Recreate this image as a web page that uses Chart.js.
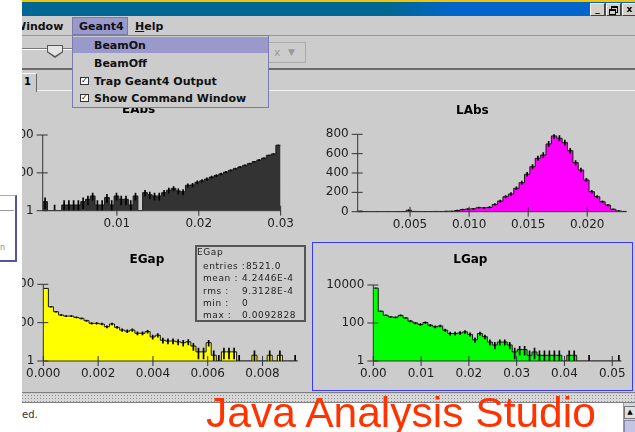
<!DOCTYPE html>
<html>
<head>
<meta charset="utf-8">
<script src="https://cdn.jsdelivr.net/npm/chart.js@4.4.1/dist/chart.umd.min.js"></script>
<style>
  body { margin:0; width:635px; height:432px; overflow:hidden; position:relative; background:#cccccc; font-family:"DejaVu Sans", sans-serif; }
  .abs { position:absolute; }
  canvas { position:absolute; z-index:1; }
  .menu { position:absolute; font-weight:bold; font-size:11px; color:#111; line-height:13px; }
  .wbtn { position:absolute; top:3px; width:13px; height:11px; background:#d4d0c8; border:1px solid; border-color:#fff #404040 #404040 #fff; font:bold 9px "DejaVu Sans"; line-height:11px; text-align:center; color:#000; }
  .stat { position:absolute; font-size:9px; line-height:10px; letter-spacing:0.6px; color:#222; white-space:nowrap; }
</style>
</head>
<body>

<!-- window chrome -->
<div class="abs" style="left:0;top:0;width:635px;height:16px;background:linear-gradient(to right,#006795 0,#006795 390px,#0066cc 455px,#0066cc 635px);"></div>
<div class="abs" style="left:0;top:0;width:635px;height:2px;background:#f5c400;"></div>
<div class="wbtn" style="left:590px;">_</div>
<div class="wbtn" style="left:606px;"><div class="abs" style="left:4px;top:2px;width:5px;height:4px;border:1px solid #000;border-top-width:2px;"></div><div class="abs" style="left:2px;top:5px;width:5px;height:3px;border:1px solid #000;border-top-width:2px;background:#d4d0c8;"></div></div>
<div class="wbtn" style="left:622px;">x</div>

<!-- menu bar -->
<div class="abs" style="left:0;top:16px;width:635px;height:19px;border-bottom:1px solid #9a9a9a;"></div>
<div class="menu" style="left:14px;top:20px;">Window</div>
<div class="abs" style="left:72px;top:17px;width:54px;height:16px;background:#9999cc;border:1px solid #7a7aa8;"></div>
<div class="menu" style="left:79px;top:20px;">Geant4</div>
<div class="menu" style="left:135px;top:20px;"><u>H</u>elp</div>

<!-- toolbar: slider and combo -->
<div class="abs" style="left:0;top:48px;width:72px;height:1px;background:#777;border-bottom:1px solid #fff;"></div>
<div class="abs" style="left:47px;top:45px;width:16px;height:13px;background:#555;clip-path:polygon(0 0,100% 0,100% 55%,50% 100%,0 55%);"></div>
<div class="abs" style="left:48px;top:46px;width:14px;height:10px;background:#e4e4e4;clip-path:polygon(0 0,100% 0,100% 55%,50% 100%,0 55%);"></div>
<div class="abs" style="left:262px;top:42px;width:42px;height:19px;border:1px solid #aaa;color:#999;font-size:11px;line-height:19px;"><span style="position:absolute;left:11px;">x</span><span style="position:absolute;left:25px;font-size:9px;">&#9660;</span></div>
<div class="abs" style="left:0;top:68px;width:635px;height:2px;background:#6a6a6a;"></div>

<!-- tab strip -->
<div class="abs" style="left:37px;top:90px;width:598px;height:1px;background:#f2f2f2;"></div>
<div class="abs" style="left:20px;top:73px;width:16px;height:18px;border-top:1px solid #fff;border-right:1px solid #666;"></div>
<div class="abs" style="left:24px;top:76px;font:bold 10px 'DejaVu Sans';color:#000;">1</div>

<!-- plot panels -->
<canvas id="eabs" width="306" height="148" style="left:-6px;top:92px;"></canvas>
<canvas id="labs" width="314" height="148" style="left:318px;top:92px;"></canvas>
<canvas id="egap" width="304" height="149" style="left:-4px;top:242px;"></canvas>
<canvas id="lgap" width="313" height="149" style="left:319px;top:242px;"></canvas>

<!-- selected panel frame -->
<div class="abs" style="left:312px;top:242px;width:321px;height:149px;border:1px solid #3a3aff;box-sizing:border-box;z-index:2;"></div>

<!-- EGap statistics box -->
<div class="abs" style="left:195px;top:245px;width:107px;height:73px;border:2px solid #555;z-index:2;">
  <div class="stat" style="left:0;top:0;">EGap</div>
  <div class="stat" style="left:6px;top:14px;">entries :</div><div class="stat" style="left:49px;top:14px;">8521.0</div>
  <div class="stat" style="left:6px;top:26px;">mean :</div><div class="stat" style="left:45px;top:26px;">4.2446E-4</div>
  <div class="stat" style="left:6px;top:39px;">rms :</div><div class="stat" style="left:45px;top:39px;">9.3128E-4</div>
  <div class="stat" style="left:6px;top:51px;">min :</div><div class="stat" style="left:45px;top:51px;">0</div>
  <div class="stat" style="left:6px;top:63px;">max :</div><div class="stat" style="left:45px;top:63px;">0.0092828</div>
</div>

<!-- bottom splitter, console and scrollbar -->
<div class="abs" style="left:0;top:392px;width:635px;height:1px;background:#808080;"></div>
<div class="abs" style="left:0;top:394px;width:635px;height:8px;background-color:#d8d8d8;background-image:radial-gradient(#8e8e8e 0.6px,transparent 0.9px);background-size:3px 3px;"></div>
<div class="abs" style="left:0;top:402px;width:635px;height:1px;background:#808080;"></div>
<div class="abs" style="left:0;top:403px;width:623px;height:29px;background:#fff;"></div>
<div class="abs" style="left:22px;top:409px;font-size:10px;color:#333;">ed.</div>
<div class="abs" style="left:623px;top:403px;width:12px;height:29px;background:#d6d6d6;border-left:1px solid #999;"></div>
<div class="abs" style="left:624px;top:406px;width:10px;height:11px;background:#e0e0e0;border:1px solid #777;font-size:7px;line-height:10px;text-align:center;">&#9650;</div>
<div class="abs" style="left:624px;top:420px;width:10px;height:12px;background:#c4c4e4;border:1px solid #8888aa;"></div>

<!-- window lying on the left -->
<div class="abs" style="left:0;top:0;width:22px;height:432px;background:#fff;z-index:5;"></div>
<div class="abs" style="left:-10px;top:195px;width:24px;height:64px;background:#fff;border:1px solid #a8a8c0;border-right:2px solid #55559a;border-bottom:2px solid #55559a;z-index:6;"></div>
<div class="abs" style="left:0;top:210px;width:14px;height:1px;background:#999;z-index:6;"></div>
<div class="abs" style="left:0;top:243px;font-size:8px;color:#888;z-index:6;">n</div>

<!-- Geant4 drop-down -->
<div class="abs" style="left:72px;top:35px;width:195px;height:71px;background:#cccccc;border:1px solid #7c7cac;z-index:6;">
  <div class="abs" style="left:0;top:1px;width:195px;height:16px;background:#9999cc;"></div>
  <div class="menu" style="left:21px;top:3px;">BeamOn</div>
  <div class="menu" style="left:21px;top:21px;">BeamOff</div>
  <div class="abs" style="left:7px;top:41px;width:7px;height:6px;border:1px solid #333;background:#fff;font:bold 8px 'DejaVu Sans';line-height:6px;">&#10003;</div>
  <div class="menu" style="left:21px;top:39px;">Trap Geant4 Output</div>
  <div class="abs" style="left:7px;top:58px;width:7px;height:6px;border:1px solid #333;background:#fff;font:bold 8px 'DejaVu Sans';line-height:6px;">&#10003;</div>
  <div class="menu" style="left:21px;top:56px;">Show Command Window</div>
</div>

<div class="abs" style="left:206px;top:392px;font-family:'Liberation Sans',Arial,sans-serif;font-size:42.5px;line-height:42px;color:#ff3300;white-space:nowrap;z-index:10;">Java Analysis Studio</div>

<script>
// Histogram contents, 50 bins each

// EAbs: energy in absorber (log y)
const eabsRange = [0.00094, 0.03];
const eabsCounts = [3, 0, 1, 0, 2, 2, 2, 2, 3, 4,
  6, 2, 2, 5, 2, 6, 4, 4, 2, 6,
  0, 9, 7, 6, 6, 9, 12, 15, 11, 10,
  22, 23, 32, 38, 47, 60, 72, 88, 110, 135,
  165, 205, 250, 310, 390, 480, 600, 850, 1000, 2900];
const eabsXTicks = [0.01, 0.02, 0.03];
const eabsXLabels = ['0.01', '0.02', '0.03'];

// LAbs: track length in absorber (linear y)
const labsRange = [0.00057, 0.02334];
const labsCounts = [5, 1, 0, 1, 0, 1, 0, 1, 2, 15,
  3, 1, 2, 1, 3, 2, 4, 5, 12, 22,
  28, 30, 42, 40, 45, 75, 110, 155, 183, 242,
  300, 387, 465, 552, 586, 700, 783, 759, 714, 631,
  507, 431, 328, 207, 155, 103, 69, 25, 8, 3];
const labsXTicks = [0.005, 0.010, 0.015, 0.020];
const labsXLabels = ['0.005', '0.010', '0.015', '0.020'];
const labsYTicks = [0, 200, 400, 600, 800];
const labsYLabels = ['0', '200', '400', '600', '800'];

// EGap: energy in gap (log y)
const egapRange = [0, 0.0092828];
const egapCounts = [6100, 670, 370, 250, 220, 220, 188, 167, 126, 92,
  92, 85, 61, 85, 57, 41, 36, 41, 28, 28,
  34, 18, 22, 12, 11, 11, 10, 9, 10, 6,
  3, 3, 9, 2, 1, 3, 3, 3, 1, 0,
  0, 2, 0, 0, 2, 0, 2, 0, 0, 1];
const egapXTicks = [0, 0.002, 0.004, 0.006, 0.008];
const egapXLabels = ['0.000', '0.002', '0.004', '0.006', '0.008'];

// LGap: track length in gap (log y)
const lgapRange = [0, 0.0519];
const lgapCounts = [6900, 415, 256, 209, 200, 250, 186, 125, 100, 83,
  106, 76, 63, 70, 42, 28, 28, 30, 34, 25,
  13, 28, 19, 10, 7, 10, 10, 7, 3, 4,
  4, 2, 3, 2, 2, 2, 2, 2, 0, 2,
  2, 0, 0, 1, 0, 0, 0, 0, 0, 1];
const lgapXTicks = [0, 0.01, 0.02, 0.03, 0.04, 0.05];
const lgapXLabels = ['0.00', '0.01', '0.02', '0.03', '0.04', '0.05'];

// log axes all show the same three decades
const logYTicks = [1, 100, 10000];
const logYLabels = ['1', '100', '10000'];

Chart.defaults.font.family = '"DejaVu Sans", sans-serif';

// Points on the lower bin edges (+ last upper edge) for a stepped outline
function histSteps(range, counts, floor) {
  var w = (range[1] - range[0]) / counts.length;
  var pts = [];
  for (let i = 0; i < counts.length; i++) {
    pts.push({x: range[0] + i * w, y: Math.max(counts[i], floor)}); // empty bins sit on the axis floor
  }
  pts.push({x: range[1], y: Math.max(counts[counts.length - 1], floor)});
  return pts;
}

// sqrt(N) error bars at bin centres, as thin floating bars
function errorBars(range, counts, floor) {
  var w = (range[1] - range[0]) / counts.length;
  var bars = [];
  for (let i = 0; i < counts.length; i++) {
    if (counts[i] <= 0) continue;
    let e = Math.sqrt(counts[i]);
    bars.push({x: range[0] + (i + 0.5) * w, y: [Math.max(counts[i] - e, floor), counts[i] + e]});
  }
  return bars;
}

// JAS style axes: plain lines with tick marks crossing them
const jasAxes = {
  id: 'jasAxes',
  afterDatasetsDraw(chart) {
    const {ctx, chartArea: a, scales: {x, y}} = chart;
    ctx.save();
    ctx.strokeStyle = '#333';
    ctx.lineWidth = 1;
    ctx.beginPath();
    ctx.moveTo(a.left, a.bottom); ctx.lineTo(a.right, a.bottom);
    ctx.moveTo(a.left, a.top); ctx.lineTo(a.left, a.bottom);
    x.ticks.forEach(t => {
      let px = x.getPixelForValue(t.value);
      ctx.moveTo(px, a.bottom - 5); ctx.lineTo(px, a.bottom + 5);
    });
    y.ticks.forEach(t => {
      let py = y.getPixelForValue(t.value);
      ctx.moveTo(a.left - 6, py); ctx.lineTo(a.left + 5, py);
    });
    ctx.stroke();
    ctx.restore();
  }
};

function drawHist(id, o) {
  new Chart(document.getElementById(id), {
    type: 'line',
    data: {
      datasets: [
        { type: 'bar', data: errorBars(o.range, o.counts, o.floor), backgroundColor: '#000', borderWidth: 0, barThickness: 1, order: 1 },
        // stepped 'before': each value holds until the next bin edge
        { data: histSteps(o.range, o.counts, o.floor), stepped: 'before', fill: 'start', backgroundColor: o.color,
          borderColor: '#1a1a1a', borderWidth: 1, pointRadius: 0, order: 2 }
      ]
    },
    options: {
      responsive: false,
      animation: false,
      events: [],
      layout: { padding: { left: 0, top: 0, right: o.padRight, bottom: 0 } },
      plugins: {
        legend: { display: false },
        tooltip: { enabled: false },
        title: { display: true, text: o.title, color: '#000', font: { size: 12, weight: 'bold' },
          padding: { top: o.titleTop, bottom: o.titleBottom } }
      },
      scales: {
        x: {
          type: 'linear', min: o.range[0], max: o.range[1], offset: false,
          grid: { display: false, drawTicks: false, offset: false }, border: { display: false },
          afterBuildTicks: s => { s.ticks = o.xTicks.map(v => ({value: v})); },
          ticks: { padding: 6, color: '#222', font: { size: 12 }, maxRotation: 0, minRotation: 0, autoSkip: false,
            callback: (v, i) => o.xLabels[i] },
          afterFit: s => { s.height = o.xAxisH; }
        },
        y: {
          type: o.yType, min: o.yTicks[0], max: o.yTicks[o.yTicks.length - 1],
          grid: { display: false, drawTicks: false }, border: { display: false },
          afterBuildTicks: s => { s.ticks = o.yTicks.map(v => ({value: v})); },
          ticks: { padding: 9, color: '#222', font: { size: 12 }, autoSkip: false,
            callback: (v, i) => o.yLabels[i] },
          afterFit: s => { s.width = o.yAxisW; }
        }
      }
    },
    plugins: [jasAxes]
  });
}

drawHist('eabs', { title: 'EAbs', range: eabsRange, counts: eabsCounts, floor: 1, color: '#333333',
  xTicks: eabsXTicks, xLabels: eabsXLabels, yType: 'logarithmic', yTicks: logYTicks, yLabels: logYLabels,
  yAxisW: 48.7, xAxisH: 29.3, padRight: 16.7, titleTop: 10.8, titleBottom: 17.8 });

drawHist('labs', { title: 'LAbs', range: labsRange, counts: labsCounts, floor: 0, color: '#ff00ff',
  xTicks: labsXTicks, xLabels: labsXLabels, yType: 'linear', yTicks: labsYTicks, yLabels: labsYLabels,
  yAxisW: 39.7, xAxisH: 28.3, padRight: 5.3, titleTop: 11.8, titleBottom: 16.1 });

drawHist('egap', { title: 'EGap', range: egapRange, counts: egapCounts, floor: 1, color: '#ffff00',
  xTicks: egapXTicks, xLabels: egapXLabels, yType: 'logarithmic', yTicks: logYTicks, yLabels: logYLabels,
  yAxisW: 47.3, xAxisH: 30, padRight: 2.3, titleTop: 10.8, titleBottom: 17.1 });

drawHist('lgap', { title: 'LGap', range: lgapRange, counts: lgapCounts, floor: 1, color: '#00ff00',
  xTicks: lgapXTicks, xLabels: lgapXLabels, yType: 'logarithmic', yTicks: logYTicks, yLabels: logYLabels,
  yAxisW: 54.3, xAxisH: 30, padRight: 10.3, titleTop: 10.8, titleBottom: 17.8 });
</script>
</body>
</html>
